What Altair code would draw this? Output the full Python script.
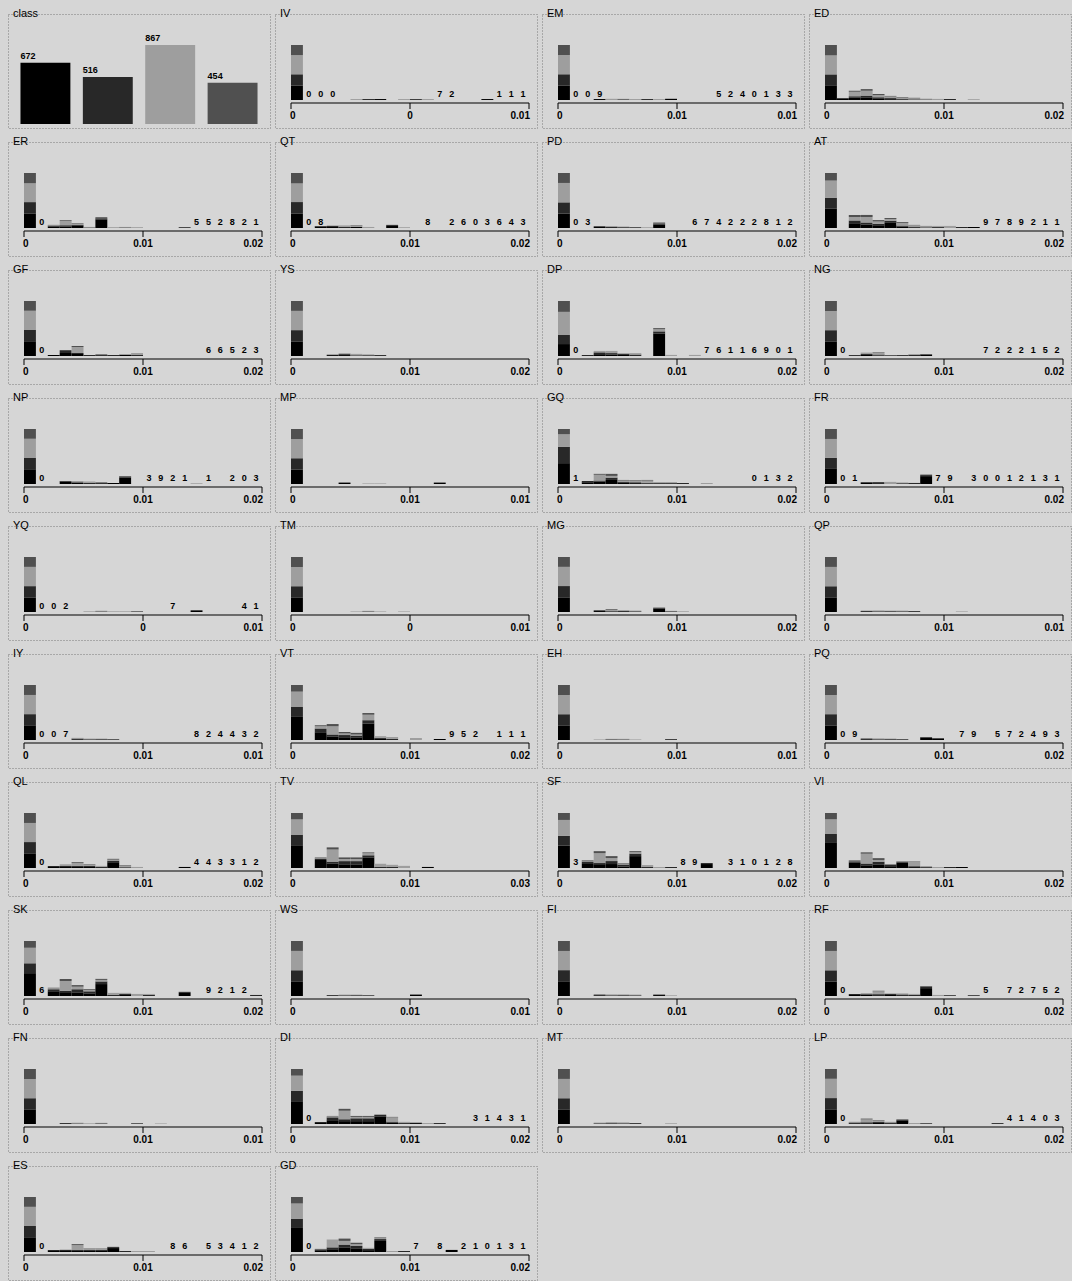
import altair as alt
import pandas as pd

# ---------------- data ----------------
CLASSES = ["c1", "c2", "c3", "c4"]
CLASS_COUNTS = [672, 516, 867, 454]
COLORS = ["#000000", "#282828", "#9e9e9e", "#505050"]
NBINS = 20

# (name, middle tick label, right tick label, {bin: (c1, c2, c3, c4)}, [(first bin, count digits)])
IV = ("IV", "0", "0.01", {0: (600, 470, 800, 420), 5: (0, 0, 40, 0), 6: (0, 40, 0, 0), 7: (40, 0, 0, 0), 9: (0, 0, 40, 0), 10: (30, 0, 0, 0), 11: (0, 0, 40, 0), 16: (40, 0, 0, 0)}, [(1, "000"), (12, "72"), (17, "111")])
EM = ("EM", "0.01", "0.01", {0: (610, 470, 810, 420), 3: (40, 0, 0, 0), 4: (0, 0, 50, 0), 5: (0, 30, 20, 0), 6: (0, 0, 40, 0), 7: (0, 40, 0, 0), 8: (0, 0, 40, 0), 9: (50, 0, 0, 0)}, [(1, "009"), (13, "5240133")])
ED = ("ED", "0.01", "0.02", {0: (540, 400, 700, 380), 1: (40, 30, 0, 0), 2: (80, 60, 160, 40), 3: (80, 80, 180, 60), 4: (40, 60, 80, 40), 5: (30, 40, 60, 20), 6: (20, 30, 40, 20), 7: (20, 0, 40, 20), 8: (0, 20, 30, 0), 9: (0, 0, 40, 0), 10: (30, 0, 0, 0), 12: (0, 0, 30, 0)}, [])
ER = ("ER", "0.01", "0.02", {0: (540, 420, 700, 380), 2: (50, 40, 30, 0), 3: (60, 40, 160, 30), 4: (80, 40, 40, 20), 5: (0, 20, 20, 0), 6: (320, 40, 0, 40), 7: (0, 0, 30, 0), 8: (0, 20, 20, 0), 9: (0, 0, 30, 0), 13: (0, 30, 0, 0)}, [(1, "0"), (14, "552821")])
QT = ("QT", "0.01", "0.02", {0: (560, 440, 720, 400), 2: (50, 30, 0, 0), 3: (40, 40, 20, 0), 4: (0, 40, 60, 0), 5: (40, 0, 40, 20), 6: (0, 0, 40, 0), 8: (80, 40, 0, 0), 9: (0, 0, 30, 0)}, [(1, "08"), (11, "8"), (13, "2603643")])
PD = ("PD", "0.01", "0.02", {0: (580, 450, 780, 400), 3: (40, 30, 0, 0), 4: (0, 40, 40, 0), 5: (30, 0, 30, 0), 6: (0, 30, 0, 0), 7: (0, 0, 30, 0), 8: (140, 40, 0, 40)}, [(1, "03"), (11, "67"), (13, "4222812")])
AT = ("AT", "0.01", "0.02", {0: (560, 320, 500, 220), 2: (140, 80, 100, 60), 3: (100, 60, 160, 60), 4: (60, 60, 70, 40), 5: (150, 60, 50, 30), 6: (40, 30, 80, 25), 7: (20, 20, 40, 10), 8: (10, 10, 30, 10), 9: (20, 10, 30, 0), 10: (0, 0, 60, 0), 11: (0, 30, 0, 0), 12: (30, 0, 0, 0)}, [(13, "9789211")])
GF = ("GF", "0.01", "0.02", {0: (590, 450, 770, 390), 2: (40, 0, 0, 0), 3: (120, 80, 0, 40), 4: (80, 40, 240, 40), 5: (0, 40, 0, 0), 6: (30, 30, 0, 0), 7: (0, 40, 0, 0), 8: (40, 0, 40, 0), 9: (0, 40, 80, 0)}, [(1, "0"), (15, "66523")])
YS = ("YS", "0.01", "0.02", {0: (620, 480, 820, 420), 3: (40, 0, 40, 0), 4: (40, 40, 40, 0), 5: (0, 30, 60, 0), 6: (30, 0, 40, 0), 7: (0, 40, 0, 0)}, [])
DP = ("DP", "0.01", "0.02", {0: (330, 250, 640, 300), 2: (0, 30, 0, 0), 3: (50, 50, 40, 0), 4: (40, 40, 60, 0), 5: (30, 30, 20, 0), 6: (0, 40, 40, 0), 8: (620, 60, 60, 30), 9: (0, 0, 30, 0), 11: (0, 0, 30, 0)}, [(1, "0"), (12, "76116901")])
NG = ("NG", "0.01", "0.02", {0: (600, 460, 790, 410), 2: (30, 0, 0, 0), 3: (40, 40, 60, 0), 4: (20, 40, 80, 20), 5: (0, 30, 0, 0), 6: (30, 0, 0, 0), 7: (0, 40, 40, 0), 8: (40, 30, 0, 0)}, [(1, "0"), (13, "7222152")])
NP = ("NP", "0.01", "0.02", {0: (590, 450, 770, 390), 3: (100, 20, 0, 0), 4: (40, 30, 50, 0), 5: (0, 40, 60, 0), 6: (30, 30, 0, 0), 7: (40, 0, 0, 0), 8: (260, 40, 0, 20), 14: (0, 0, 30, 0)}, [(1, "0"), (10, "3921"), (15, "1"), (17, "203")])
MP = ("MP", "0.01", "0.01", {0: (620, 480, 820, 430), 4: (60, 0, 0, 0), 6: (0, 0, 25, 0), 7: (0, 0, 25, 0), 12: (60, 0, 0, 0)}, [])
GQ = ("GQ", "0.01", "0.02", {0: (720, 560, 440, 180), 2: (60, 40, 0, 0), 3: (80, 40, 200, 30), 4: (140, 80, 60, 70), 5: (40, 40, 40, 20), 6: (30, 30, 50, 20), 7: (20, 20, 80, 20), 8: (20, 20, 30, 0), 9: (20, 20, 30, 0), 10: (0, 35, 0, 0), 12: (0, 0, 35, 0)}, [(1, "1"), (16, "0132")])
FR = ("FR", "0.01", "0.02", {0: (600, 400, 720, 380), 3: (40, 30, 0, 0), 4: (30, 40, 0, 0), 5: (0, 0, 80, 0), 6: (0, 30, 30, 0), 7: (0, 40, 0, 0), 8: (300, 40, 0, 20)}, [(1, "01"), (9, "79"), (12, "30012131")])
YQ = ("YQ", "0", "0.01", {0: (620, 480, 820, 420), 5: (0, 0, 30, 0), 6: (0, 25, 30, 0), 7: (0, 0, 30, 0), 8: (0, 0, 30, 0), 9: (0, 25, 0, 0), 14: (70, 0, 0, 0)}, [(1, "002"), (12, "7"), (18, "41")])
TM = ("TM", "0", "0.01", {0: (630, 480, 830, 430), 5: (0, 0, 25, 0), 6: (0, 25, 25, 0), 7: (0, 0, 25, 0), 9: (0, 0, 25, 0)}, [])
MG = ("MG", "0.01", "0.02", {0: (610, 470, 800, 410), 3: (40, 30, 0, 0), 4: (30, 0, 60, 30), 5: (0, 40, 40, 0), 6: (0, 30, 30, 0), 8: (140, 40, 0, 0), 9: (0, 30, 20, 0), 10: (0, 0, 30, 0)}, [])
QP = ("QP", "0.01", "0.01", {0: (620, 470, 820, 420), 3: (30, 20, 0, 0), 4: (0, 30, 40, 0), 5: (30, 0, 30, 0), 6: (0, 30, 30, 0), 7: (30, 0, 0, 0), 11: (0, 0, 25, 0)}, [])
IY = ("IY", "0.01", "0.01", {0: (620, 470, 810, 420), 4: (30, 30, 30, 0), 5: (0, 30, 30, 0), 6: (30, 0, 30, 0), 7: (0, 30, 0, 0)}, [(1, "007"), (14, "824432")])
VT = ("VT", "0.01", "0.02", {0: (420, 180, 280, 120), 2: (140, 70, 40, 20), 3: (60, 40, 150, 40), 4: (50, 40, 30, 25), 5: (40, 40, 20, 30), 6: (300, 60, 100, 30), 7: (20, 20, 30, 0), 8: (0, 20, 35, 0), 10: (0, 0, 36, 0), 12: (18, 0, 0, 0)}, [(13, "952"), (17, "111")])
EH = ("EH", "0.01", "0.01", {0: (630, 480, 830, 430), 3: (0, 0, 25, 0), 4: (25, 0, 25, 0), 5: (0, 25, 25, 0), 6: (0, 0, 25, 0), 9: (30, 0, 0, 0)}, [])
PQ = ("PQ", "0.01", "0.02", {0: (600, 460, 790, 410), 3: (30, 30, 0, 0), 4: (0, 30, 40, 0), 5: (30, 0, 30, 0), 6: (0, 30, 0, 0), 8: (90, 30, 0, 0), 9: (60, 20, 0, 0)}, [(1, "09"), (11, "79"), (14, "572493")])
QL = ("QL", "0.01", "0.02", {0: (560, 430, 730, 380), 2: (40, 40, 0, 0), 3: (40, 40, 60, 0), 4: (40, 40, 120, 30), 5: (40, 40, 40, 20), 6: (0, 40, 40, 0), 7: (220, 60, 40, 30), 8: (0, 30, 60, 20), 9: (0, 0, 40, 0), 13: (40, 0, 0, 0)}, [(1, "0"), (14, "443312")])
TV = ("TV", "0.01", "0.03", {0: (430, 200, 290, 120), 2: (150, 30, 10, 10), 3: (80, 40, 230, 40), 4: (70, 60, 40, 30), 5: (60, 70, 40, 30), 6: (200, 40, 40, 15), 7: (0, 20, 60, 0), 8: (0, 20, 40, 0), 9: (0, 0, 40, 0), 11: (20, 0, 0, 0)}, [])
SF = ("SF", "0.01", "0.02", {0: (450, 200, 320, 140), 2: (80, 50, 20, 10), 3: (60, 40, 200, 40), 4: (80, 60, 60, 40), 5: (30, 40, 20, 10), 6: (240, 50, 30, 20), 7: (0, 20, 40, 0), 8: (0, 0, 20, 0), 9: (0, 20, 0, 0), 12: (80, 20, 0, 0)}, [(1, "3"), (10, "89"), (14, "310128")])
VI = ("VI", "0.01", "0.02", {0: (560, 200, 330, 140), 2: (120, 30, 20, 10), 3: (60, 40, 220, 30), 4: (80, 60, 40, 40), 5: (40, 30, 10, 10), 6: (120, 20, 10, 5), 7: (20, 20, 110, 5), 8: (0, 20, 25, 0), 9: (0, 0, 22, 0), 10: (0, 22, 0, 0), 11: (22, 0, 0, 0)}, [])
SK = ("SK", "0.01", "0.02", {0: (440, 190, 300, 130), 2: (90, 40, 20, 10), 3: (60, 40, 190, 40), 4: (70, 60, 50, 30), 5: (50, 40, 30, 15), 6: (230, 50, 30, 20), 7: (0, 20, 40, 0), 8: (20, 20, 20, 0), 9: (0, 0, 40, 0), 10: (0, 20, 20, 0), 13: (60, 20, 0, 0), 19: (0, 20, 0, 0)}, [(1, "6"), (15, "9212")])
WS = ("WS", "0.01", "0.01", {0: (620, 470, 820, 420), 3: (30, 0, 0, 0), 4: (0, 30, 30, 0), 5: (30, 0, 30, 0), 6: (0, 30, 0, 0), 10: (60, 0, 0, 0)}, [])
FI = ("FI", "0.01", "0.02", {0: (620, 470, 810, 420), 3: (30, 30, 0, 0), 4: (0, 30, 40, 0), 5: (30, 0, 40, 0), 6: (0, 30, 30, 0), 8: (40, 20, 0, 0), 9: (0, 0, 30, 0)}, [])
RF = ("RF", "0.01", "0.02", {0: (550, 430, 740, 380), 2: (40, 40, 0, 0), 3: (40, 30, 40, 0), 4: (30, 40, 110, 20), 5: (40, 40, 20, 0), 6: (30, 30, 40, 0), 7: (0, 40, 40, 0), 8: (300, 60, 0, 20), 9: (0, 0, 40, 0), 10: (0, 30, 0, 0), 12: (0, 30, 0, 0)}, [(1, "0"), (13, "5"), (15, "72752")])
FN = ("FN", "0.01", "0.01", {0: (630, 480, 830, 430), 3: (30, 0, 0, 0), 4: (0, 25, 30, 0), 5: (0, 0, 30, 0), 6: (25, 0, 25, 0), 9: (0, 30, 0, 0), 11: (0, 0, 25, 0)}, [])
DI = ("DI", "0.01", "0.02", {0: (480, 220, 320, 140), 2: (20, 20, 0, 0), 3: (80, 60, 20, 10), 4: (60, 40, 180, 40), 5: (60, 60, 30, 20), 6: (60, 60, 30, 20), 7: (160, 30, 20, 0), 8: (30, 20, 90, 10), 9: (0, 20, 25, 0), 10: (20, 0, 20, 0), 11: (0, 0, 20, 0), 12: (0, 20, 0, 0)}, [(1, "0"), (15, "31431")])
MT = ("MT", "0.01", "0.02", {0: (620, 470, 820, 420), 3: (0, 30, 30, 0), 4: (30, 0, 50, 0), 5: (0, 30, 40, 0), 6: (30, 0, 0, 0), 9: (0, 0, 30, 0)}, [])
LP = ("LP", "0.01", "0.02", {0: (600, 460, 790, 400), 2: (30, 30, 30, 0), 3: (30, 40, 120, 30), 4: (40, 40, 60, 20), 5: (30, 30, 30, 0), 6: (150, 30, 0, 10), 7: (0, 0, 40, 0), 8: (0, 30, 0, 0), 14: (30, 0, 0, 0)}, [(1, "0"), (15, "41403")])
ES = ("ES", "0.01", "0.02", {0: (600, 460, 780, 400), 2: (40, 40, 0, 0), 3: (40, 40, 20, 0), 4: (40, 40, 200, 40), 5: (40, 40, 40, 20), 6: (40, 40, 40, 20), 7: (160, 40, 0, 10), 8: (0, 40, 0, 0), 9: (0, 0, 40, 0), 10: (0, 0, 40, 0)}, [(1, "0"), (12, "86"), (15, "53412")])
GD = ("GD", "0.01", "0.02", {0: (520, 200, 330, 140), 2: (40, 20, 10, 0), 3: (60, 40, 170, 0), 4: (100, 60, 80, 50), 5: (80, 50, 40, 30), 6: (40, 30, 20, 0), 7: (240, 40, 20, 15), 8: (0, 0, 22, 0), 9: (0, 22, 0, 0), 13: (45, 0, 0, 0)}, [(1, "0"), (10, "7"), (12, "8"), (14, "210131")])

PANELS = [IV, EM, ED, ER, QT, PD, AT, GF, YS, DP, NG, NP, MP, GQ, FR, YQ, TM, MG, QP,
          IY, VT, EH, PQ, QL, TV, SF, VI, SK, WS, FI, RF, FN, DI, MT, LP, ES, GD]

# ---------------- layout / style ----------------
FONT = "Liberation Sans"
BG = "#d6d6d6"
W, H = 262, 114
TOP_PX, BASE_PX, AXIS_PX = 31, 86, 89
LEFT_IN, RIGHT_IN = 16, 8

color_scale = alt.Scale(domain=CLASSES, range=COLORS)


def title_layer(name):
    return alt.Chart(pd.DataFrame({"t": [name]})).mark_text(
        align="left", baseline="middle", fontSize=11, font=FONT, color="#000"
    ).encode(x=alt.value(5), y=alt.value(0), text="t:N")


def class_panel():
    df = pd.DataFrame({"cls": CLASSES, "n": CLASS_COUNTS, "lab": [str(v) for v in CLASS_COUNTS]})
    cmax = max(CLASS_COUNTS)
    span = cmax * H / (110 - TOP_PX)
    lo = -(H - 110) / H * span
    xs = alt.Scale(domain=CLASSES, paddingInner=0.2, paddingOuter=0.2)
    ys = alt.Scale(domain=[lo, lo + span], nice=False, zero=False)
    bars = alt.Chart(df).mark_bar().encode(
        x=alt.X("cls:N", scale=xs, axis=None, sort=None),
        y=alt.Y("n:Q", scale=ys, axis=None),
        color=alt.Color("cls:N", scale=color_scale, legend=None),
    )
    labs = alt.Chart(df).mark_text(
        align="left", baseline="bottom", dy=-2, fontSize=9, fontWeight="bold", font=FONT, color="#000"
    ).encode(
        x=alt.X("cls:N", scale=xs, axis=None, sort=None, bandPosition=0),
        y=alt.Y("n:Q", scale=ys, axis=None),
        text="lab:N",
    )
    return alt.layer(bars, labs, title_layer("class")).properties(width=W, height=H)


def attr_panel(p):
    name, mid, right, bars, labels = p
    recs = []
    cmax = 0
    for b in sorted(bars):
        cum = 0
        for cls, n in zip(CLASSES, bars[b]):
            if n:
                recs.append(dict(x0=b, x1=b + 1, y0=cum, y1=cum + n, cls=cls))
                cum += n
        cmax = max(cmax, cum)
    df = pd.DataFrame(recs)

    binw = (W - LEFT_IN - RIGHT_IN) / NBINS
    xs = alt.Scale(domain=[-LEFT_IN / binw, NBINS + RIGHT_IN / binw], nice=False, zero=False)
    span = cmax * H / (BASE_PX - TOP_PX)
    lo = -(H - BASE_PX) / H * span
    ys = alt.Scale(domain=[lo, lo + span], nice=False, zero=False)

    layers = []
    layers.append(alt.Chart(df).mark_rect().encode(
        x=alt.X("x0:Q", scale=xs, axis=None), x2="x1:Q",
        y=alt.Y("y0:Q", scale=ys, axis=None), y2="y1:Q",
        color=alt.Color("cls:N", scale=color_scale, legend=None),
    ))

    # axis line, ticks, tick labels
    layers.append(alt.Chart(pd.DataFrame({"a": [0], "b": [NBINS]})).mark_rule(color="#000", strokeWidth=1).encode(
        x=alt.X("a:Q", axis=None), x2="b:Q", y=alt.value(AXIS_PX)))
    tdf = pd.DataFrame({"t": [0, NBINS / 2, NBINS]})
    layers.append(alt.Chart(tdf).mark_rule(color="#000", strokeWidth=1).encode(
        x=alt.X("t:Q", axis=None), y=alt.value(AXIS_PX), y2=alt.value(AXIS_PX + 6)))
    for pos, txt, al, dx in [(0, "0", "left", -1), (NBINS / 2, mid, "center", 0), (NBINS, right, "right", 1)]:
        layers.append(alt.Chart(pd.DataFrame({"t": [pos], "s": [txt]})).mark_text(
            align=al, baseline="top", dx=dx, fontSize=10, fontWeight="bold", font=FONT, color="#000"
        ).encode(x=alt.X("t:Q", axis=None), y=alt.value(AXIS_PX + 8), text="s:N"))

    # count digits
    drecs = []
    for start, digits in labels:
        for k, ch in enumerate(digits):
            drecs.append(dict(x=start + k + 0.5, z=0, d=ch))
    if drecs:
        layers.append(alt.Chart(pd.DataFrame(drecs)).mark_text(
            baseline="bottom", dy=-1, fontSize=9, fontWeight="bold", font=FONT, color="#000"
        ).encode(x=alt.X("x:Q", axis=None), y=alt.Y("z:Q", axis=None), text="d:N"))

    layers.append(title_layer(name))
    return alt.layer(*layers).properties(width=W, height=H)


charts = [class_panel()] + [attr_panel(p) for p in PANELS]
chart = alt.concat(
    *charts, columns=4, spacing={"row": 14, "column": 5}, bounds="flush", background=BG,
    padding={"left": 7, "top": 7, "right": 0, "bottom": 0},
).configure_view(stroke="#7a7a7a", strokeDash=[1, 2], strokeWidth=1)

chart.save("out.html", embed_options={"renderer": "svg", "actions": False})
